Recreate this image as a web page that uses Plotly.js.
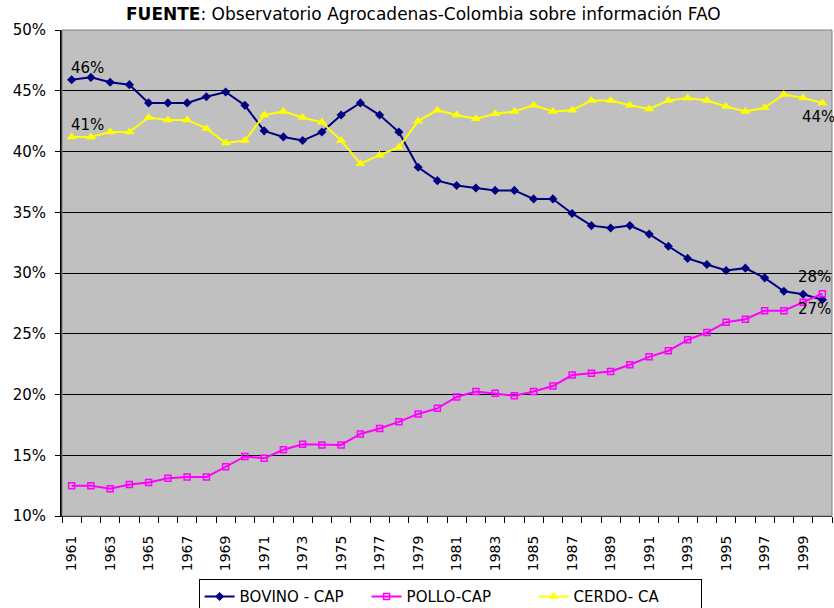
<!DOCTYPE html>
<html><head><meta charset="utf-8">
<script src="https://cdn.plot.ly/plotly-3.0.1.min.js"></script>
<style>body{margin:0;background:#fff}#chart{width:834px;height:608px}</style>
</head><body><div id="chart"></div>
<script>
const years = [1961,1962,1963,1964,1965,1966,1967,1968,1969,1970,1971,1972,1973,1974,1975,1976,1977,1978,1979,1980,
               1981,1982,1983,1984,1985,1986,1987,1988,1989,1990,1991,1992,1993,1994,1995,1996,1997,1998,1999,2000];
const bovino = [45.9,46.1,45.7,45.5,44.0,44.0,44.0,44.5,44.9,43.8,41.7,41.2,40.9,41.6,43.0,44.0,43.0,41.6,38.7,37.6,
                37.2,37.0,36.8,36.8,36.1,36.1,34.9,33.9,33.7,33.9,33.2,32.2,31.2,30.7,30.2,30.4,29.6,28.5,28.25,27.8];
const pollo = [12.5,12.5,12.25,12.6,12.75,13.1,13.2,13.2,14.05,14.9,14.75,15.45,15.9,15.85,15.85,16.75,17.2,17.75,18.4,18.86,
               19.8,20.25,20.1,19.9,20.25,20.7,21.6,21.75,21.9,22.45,23.1,23.6,24.5,25.1,25.95,26.2,26.9,26.9,27.6,28.3];
const cerdo = [41.2,41.2,41.6,41.6,42.8,42.6,42.6,41.9,40.7,40.9,43.0,43.3,42.8,42.4,40.9,39.0,39.7,40.35,42.5,43.4,
               43.0,42.7,43.1,43.3,43.8,43.3,43.4,44.2,44.2,43.8,43.5,44.2,44.4,44.2,43.7,43.3,43.6,44.7,44.4,44.0];
const names = ['BOVINO - CAP','POLLO-CAP','CERDO- CA'];
const yTicks = [10,15,20,25,30,35,40,45,50];
const xLabelYears = years.filter((y,i)=>i%2===0 && y<2000);
const boundaries = years.map(y=>y-0.5).concat([2000.5]);

const F = 'DejaVu Sans, Verdana, sans-serif';
const traces = [
  {x:years,y:bovino,name:names[0],mode:'lines+markers',line:{color:'#000080',width:2},
   marker:{symbol:'diamond',size:7,color:'#000080'}},
  {x:years,y:pollo,name:names[1],mode:'lines+markers',line:{color:'#FF00FF',width:2},
   marker:{symbol:'square-open',size:6,color:'#FF00FF',line:{width:1.5}}},
  {x:years,y:cerdo,name:names[2],mode:'lines+markers',line:{color:'#FFFF00',width:2},
   marker:{symbol:'triangle-up',size:9,color:'#FFFF00'}},
  {x:[boundaries[0]],y:[10],xaxis:'x2',mode:'markers',marker:{opacity:0},showlegend:false,hoverinfo:'skip'}
];
const layout = {
  width:834,height:608,
  margin:{l:62,r:2,t:30,b:92,autoexpand:false},
  paper_bgcolor:'#ffffff',plot_bgcolor:'#C0C0C0',
  font:{family:F,color:'#000'},
  showlegend:true,
  legend:{orientation:'h',x:0.504,xanchor:'center',y:-0.13,yanchor:'top',
          bgcolor:'#fff',bordercolor:'#000',borderwidth:1,font:{size:15,family:F},
          tracegroupgap:0,entrywidth:122,entrywidthmode:'pixels'},
  xaxis:{range:[1960.5,2000.5],tickmode:'array',tickvals:xLabelYears,ticktext:xLabelYears.map(String),
         tickangle:-90,ticks:'',showgrid:false,zeroline:false,tickfont:{size:14,family:F},
         showline:true,linecolor:'#000',linewidth:1,automargin:false,ticklabelstandoff:13},
  xaxis2:{overlaying:'x',anchor:'y',side:'bottom',range:[1960.5,2000.5],tickmode:'array',tickvals:boundaries,
          showticklabels:false,ticks:'outside',ticklen:6,tickcolor:'#000',tickwidth:1,showgrid:false,zeroline:false},
  yaxis:{range:[10,50],tickmode:'array',tickvals:yTicks,ticktext:yTicks.map(v=>v+'%'),
         ticks:'outside',ticklen:5,tickcolor:'#000',showgrid:true,gridcolor:'#000',gridwidth:1,
         zeroline:false,showline:true,linecolor:'#000',linewidth:2,tickfont:{size:15,family:F},
         automargin:false,ticklabelstandoff:6},
  shapes:[{type:'rect',xref:'paper',yref:'paper',x0:0,x1:1,y0:0,y1:1,line:{color:'#808080',width:1}}],
  annotations:[
    {xref:'paper',yref:'paper',x:0.47,y:1,yshift:16,xanchor:'center',yanchor:'middle',showarrow:false,
     text:'<b>FUENTE</b>: Observatorio Agrocadenas-Colombia sobre información FAO',font:{size:17,family:F}},
    {x:1961.8,y:bovino[0],yshift:12,showarrow:false,text:'46%',font:{size:15,family:F}},
    {x:1961.8,y:cerdo[0],yshift:12,showarrow:false,text:'41%',font:{size:15,family:F}},
    {x:2000,y:cerdo[39],yshift:-14,xshift:-4,showarrow:false,text:'44%',font:{size:15,family:F}},
    {x:1999.6,y:bovino[39],yshift:23,showarrow:false,text:'28%',font:{size:15,family:F}},
    {x:1999.6,y:bovino[39],yshift:-9,showarrow:false,text:'27%',font:{size:15,family:F}}
  ]
};
Plotly.newPlot('chart',traces,layout,{displayModeBar:false,staticPlot:true});
</script></body></html>
